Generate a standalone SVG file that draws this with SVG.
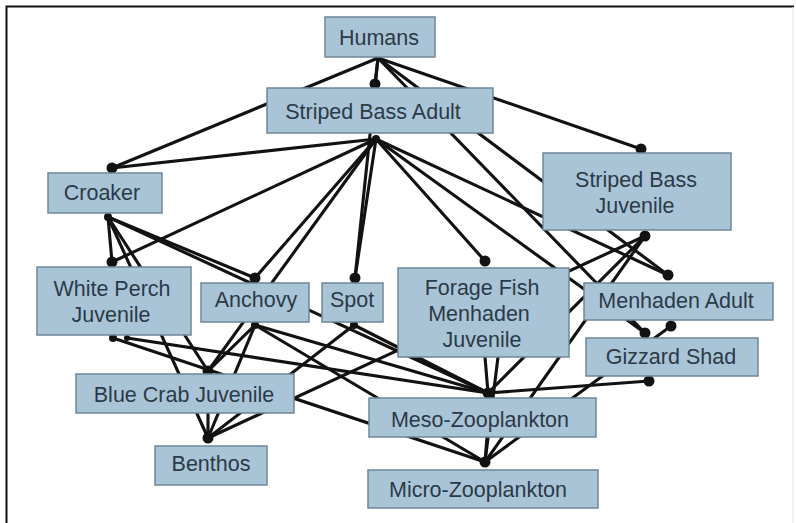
<svg xmlns="http://www.w3.org/2000/svg" width="796" height="523" viewBox="0 0 796 523">
  <style>
    .box { fill: #aac4d7; stroke: #6f8799; stroke-width: 1.5; }
    .lbl { font-family: "Liberation Sans", Arial, sans-serif; font-size: 21.5px; fill: #2b3a47; text-anchor: middle; }
    .edge { stroke: #121212; stroke-width: 3.1; stroke-linecap: round; fill: none; }
    .dot { fill: #121212; }
  </style>
  <rect x="0" y="0" width="796" height="523" fill="#ffffff"/>
  <!-- frame -->
  <path d="M6.5 523 V6.5 H794" fill="none" stroke="#111" stroke-width="2"/>
  <line x1="793" y1="7" x2="793" y2="523" stroke="#e2e2e2" stroke-width="1"/>

  <g id="connectors">
    <!-- Humans -->
    <line class="edge" x1="378" y1="58" x2="375" y2="84"/>
    <line class="edge" x1="378" y1="58" x2="112" y2="168"/>
    <line class="edge" x1="378" y1="58" x2="641" y2="149"/>
    <line class="edge" x1="378" y1="58" x2="668" y2="275"/>
    <line class="edge" x1="378" y1="58" x2="645" y2="333"/>
    <line class="edge" x1="378" y1="58" x2="355" y2="278"/>
    <!-- Striped Bass Adult -->
    <line class="edge" x1="376" y1="139" x2="112" y2="168"/>
    <line class="edge" x1="376" y1="139" x2="112" y2="262"/>
    <line class="edge" x1="376" y1="139" x2="255" y2="278"/>
    <line class="edge" x1="376" y1="139" x2="208" y2="371"/>
    <line class="edge" x1="376" y1="139" x2="355" y2="278"/>
    <line class="edge" x1="376" y1="139" x2="485" y2="261"/>
    <line class="edge" x1="376" y1="139" x2="668" y2="275"/>
    <line class="edge" x1="376" y1="139" x2="645" y2="333"/>
    <!-- Croaker -->
    <line class="edge" x1="108" y1="217" x2="112" y2="262"/>
    <line class="edge" x1="108" y1="217" x2="208" y2="438"/>
    <line class="edge" x1="108" y1="217" x2="208" y2="371"/>
    <line class="edge" x1="108" y1="217" x2="255" y2="278"/>
    <line class="edge" x1="108" y1="217" x2="488" y2="393"/>
    <!-- White Perch Juvenile -->
    <line class="edge" x1="127" y1="338" x2="488" y2="393"/>
    <line class="edge" x1="113" y1="338" x2="485" y2="462"/>
    <!-- Anchovy -->
    <line class="edge" x1="255" y1="325" x2="208" y2="371"/>
    <line class="edge" x1="255" y1="325" x2="208" y2="438"/>
    <line class="edge" x1="255" y1="325" x2="488" y2="393"/>
    <line class="edge" x1="255" y1="325" x2="485" y2="462"/>
    <!-- Spot -->
    <line class="edge" x1="354" y1="325" x2="208" y2="438"/>
    <line class="edge" x1="354" y1="325" x2="488" y2="393"/>
    <!-- Forage Fish Menhaden Juvenile -->
    <line class="edge" x1="485" y1="357" x2="488" y2="393"/>
    <line class="edge" x1="498" y1="357" x2="485" y2="462"/>
    <!-- Striped Bass Juvenile -->
    <line class="edge" x1="645" y1="236" x2="208" y2="438"/>
    <line class="edge" x1="645" y1="236" x2="488" y2="393"/>
    <line class="edge" x1="645" y1="236" x2="485" y2="462"/>
    <!-- Menhaden Adult -->
    <line class="edge" x1="671" y1="326" x2="485" y2="462"/>
    <!-- Gizzard Shad -->
    <line class="edge" x1="649" y1="381" x2="488" y2="393"/>
    <!-- Blue Crab Juvenile -->
    <line class="edge" x1="208" y1="413" x2="208" y2="438"/>
    <!-- Meso-Zooplankton -->
    <line class="edge" x1="487" y1="437" x2="485" y2="462"/>

    <!-- end dots -->
    <circle class="dot" cx="375" cy="84" r="5.5"/>
    <circle class="dot" cx="112" cy="168" r="5.5"/>
    <circle class="dot" cx="112" cy="262" r="5.5"/>
    <circle class="dot" cx="255" cy="278" r="5.5"/>
    <circle class="dot" cx="355" cy="278" r="5.5"/>
    <circle class="dot" cx="485" cy="261" r="5.5"/>
    <circle class="dot" cx="641" cy="149" r="5.5"/>
    <circle class="dot" cx="645" cy="236" r="5.5"/>
    <circle class="dot" cx="668" cy="275" r="5.5"/>
    <circle class="dot" cx="671" cy="326" r="5.5"/>
    <circle class="dot" cx="645" cy="333" r="5.5"/>
    <circle class="dot" cx="649" cy="381" r="5.5"/>
    <circle class="dot" cx="208" cy="371" r="5.5"/>
    <circle class="dot" cx="208" cy="438" r="5.5"/>
    <circle class="dot" cx="488" cy="393" r="5.5"/>
    <circle class="dot" cx="485" cy="462" r="5.5"/>
    <!-- departure hubs -->
    <circle class="dot" cx="378" cy="58" r="3.5"/>
    <circle class="dot" cx="376" cy="139" r="4"/>
    <circle class="dot" cx="108" cy="217" r="4"/>
    <circle class="dot" cx="113" cy="338" r="4"/>
    <circle class="dot" cx="127" cy="338" r="3"/>
    <circle class="dot" cx="255" cy="325" r="4"/>
    <circle class="dot" cx="354" cy="325" r="4"/>
  </g>

  <g id="humans">
    <rect class="box" x="325" y="17" width="110" height="40"/>
    <text class="lbl" x="379" y="45">Humans</text>
  </g>
  <g id="striped-bass-adult">
    <rect class="box" x="267" y="88" width="226" height="45"/>
    <text class="lbl" x="373" y="119">Striped Bass Adult</text>
  </g>
  <g id="croaker">
    <rect class="box" x="48" y="173" width="114" height="40"/>
    <text class="lbl" x="102" y="200">Croaker</text>
  </g>
  <g id="striped-bass-juvenile">
    <rect class="box" x="543" y="153" width="188" height="77"/>
    <text class="lbl" x="636" y="187">Striped Bass</text>
    <text class="lbl" x="635" y="213">Juvenile</text>
  </g>
  <g id="white-perch-juvenile">
    <rect class="box" x="37" y="267" width="154" height="68"/>
    <text class="lbl" x="112" y="296">White Perch</text>
    <text class="lbl" x="111" y="322">Juvenile</text>
  </g>
  <g id="anchovy">
    <rect class="box" x="201" y="283" width="108" height="39"/>
    <text class="lbl" x="256" y="307">Anchovy</text>
  </g>
  <g id="spot">
    <rect class="box" x="322" y="283" width="61" height="39"/>
    <text class="lbl" x="352" y="307">Spot</text>
  </g>
  <g id="forage-fish-menhaden-juvenile">
    <rect class="box" x="398" y="268" width="171" height="89"/>
    <text class="lbl" x="482" y="295">Forage Fish</text>
    <text class="lbl" x="479" y="321">Menhaden</text>
    <text class="lbl" x="482" y="347">Juvenile</text>
  </g>
  <g id="menhaden-adult">
    <rect class="box" x="584" y="283" width="189" height="37"/>
    <text class="lbl" x="676" y="308">Menhaden Adult</text>
  </g>
  <g id="gizzard-shad">
    <rect class="box" x="586" y="338" width="172" height="38"/>
    <text class="lbl" x="671" y="364">Gizzard Shad</text>
  </g>
  <g id="blue-crab-juvenile">
    <rect class="box" x="76" y="374" width="218" height="39"/>
    <text class="lbl" x="184" y="402">Blue Crab Juvenile</text>
  </g>
  <g id="meso-zooplankton">
    <rect class="box" x="369" y="398" width="227" height="39"/>
    <text class="lbl" x="480" y="427">Meso-Zooplankton</text>
  </g>
  <g id="benthos">
    <rect class="box" x="155" y="446" width="112" height="39"/>
    <text class="lbl" x="211" y="471">Benthos</text>
  </g>
  <g id="micro-zooplankton">
    <rect class="box" x="368" y="470" width="230" height="38"/>
    <text class="lbl" x="478" y="497">Micro-Zooplankton</text>
  </g>
</svg>
